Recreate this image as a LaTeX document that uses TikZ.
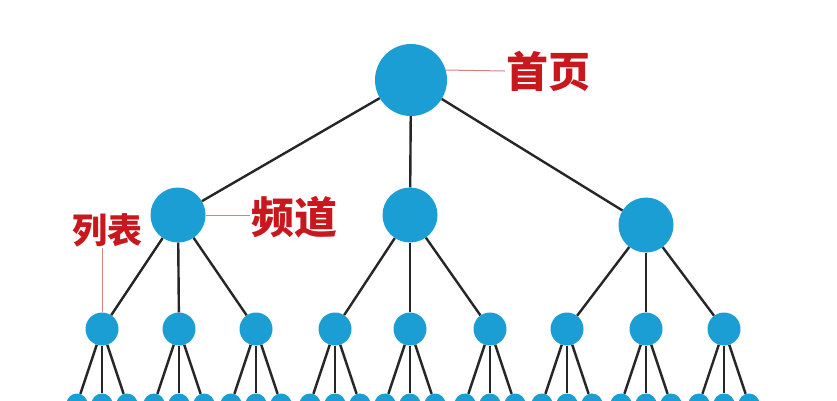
\documentclass[tikz,border=0pt]{standalone}
\usepackage{fontspec}
\newfontfamily\cjk{Noto Sans CJK SC}
\definecolor{nodeblue}{RGB}{27,158,212}
\definecolor{labelred}{RGB}{200,24,30}
\definecolor{pinkline}{RGB}{214,128,128}
\tikzset{
  ball/.style={circle,fill=nodeblue,inner sep=0pt,minimum size=#1},
  redtag/.style={text=labelred,font=\cjk\bfseries\fontsize{#1}{#1}\selectfont,inner sep=1pt},
  branch/.style={line width=2.4pt,draw=black!85},
  pointer/.style={draw=pinkline,line width=1pt}
}
\begin{document}
\begin{tikzpicture}[x=1pt,y=-1pt]
  \clip (0,0) rectangle (837,400);
  \fill[white] (0,0) rectangle (837,400);
  % home page
  \node[ball=72pt] (home) at (411,80) {};
  % channels
  \node[ball=55pt] (chan1) at (178,215) {};
  \node[ball=55pt] (chan2) at (410,215) {};
  \node[ball=55pt] (chan3) at (646,225) {};
  \draw[branch] (home) -- (chan1);
  \draw[branch] (home) -- (chan2);
  \draw[branch] (home) -- (chan3);
  % lists and their pages
  \foreach \x [count=\i] in {102,179,256,335,410,490,567,646,724} {
    \node[ball=33pt] (list\i) at (\x,329) {};
    \foreach \d [count=\j] in {-25,0,25} {
      \node[ball=21pt] (page\i\j) at (\x+\d,404) {};
      \draw[branch] (list\i) -- (page\i\j);
    }
  }
  \foreach \c in {1,2,3}
    \foreach \k in {0,1,2} {
      \pgfmathtruncatemacro\l{3*\c-2+\k}
      \draw[branch] (chan\c) -- (list\l);
    }
  % labels
  \node[redtag=42] (homelbl) at (548,71) {首页};
  \draw[pointer] (home.16) -- (homelbl.west);
  \node[redtag=43] (chanlbl) at (294,217) {频道};
  \draw[pointer] (chan1.east) -- (chan1.east -| chanlbl.west);
  \node[redtag=35] (listlbl) at (107,230) {列表};
  \draw[pointer] (list1 |- listlbl.south) -- (list1.north);
\end{tikzpicture}
\end{document}
